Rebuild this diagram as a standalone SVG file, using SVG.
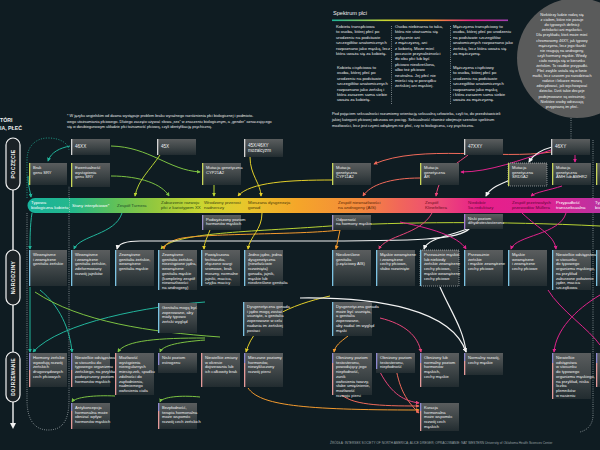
<svg xmlns="http://www.w3.org/2000/svg" width="600" height="450" viewBox="0 0 600 450">
<defs>
<linearGradient id="gb" x1="0" y1="0" x2="0" y2="1"><stop offset="0" stop-color="#5a5d5e"/><stop offset="0.55" stop-color="#3d4446"/><stop offset="1" stop-color="#222c30"/></linearGradient>
<linearGradient id="band" x1="28" y1="0" x2="600" y2="0" gradientUnits="userSpaceOnUse">
<stop offset="0" stop-color="#17b29c"/><stop offset="0.08" stop-color="#25b88b"/><stop offset="0.15" stop-color="#5ec15a"/><stop offset="0.22" stop-color="#93c83e"/><stop offset="0.3" stop-color="#c9d631"/><stop offset="0.37" stop-color="#e6c92b"/><stop offset="0.47" stop-color="#f5a629"/><stop offset="0.58" stop-color="#f48a3c"/><stop offset="0.65" stop-color="#f1665a"/><stop offset="0.72" stop-color="#ed4a78"/><stop offset="0.79" stop-color="#e71f8a"/><stop offset="0.9" stop-color="#df2291"/><stop offset="1" stop-color="#bb32a2"/></linearGradient>
<linearGradient id="spec" x1="0" y1="0" x2="1" y2="0"><stop offset="0" stop-color="#1fb59a"/><stop offset="0.3" stop-color="#c9d631"/><stop offset="0.55" stop-color="#f5a629"/><stop offset="0.8" stop-color="#e71f8a"/><stop offset="1" stop-color="#a040b0"/></linearGradient>
<marker id="aT" viewBox="0 0 6 6" refX="5" refY="3" markerWidth="4" markerHeight="4" orient="auto"><path d="M0,0 L6,3 L0,6z" fill="#22b59c"/></marker>
<marker id="aG" viewBox="0 0 6 6" refX="5" refY="3" markerWidth="4" markerHeight="4" orient="auto"><path d="M0,0 L6,3 L0,6z" fill="#7cc242"/></marker>
<marker id="aL" viewBox="0 0 6 6" refX="5" refY="3" markerWidth="4" markerHeight="4" orient="auto"><path d="M0,0 L6,3 L0,6z" fill="#b9d334"/></marker>
<marker id="aY" viewBox="0 0 6 6" refX="5" refY="3" markerWidth="4" markerHeight="4" orient="auto"><path d="M0,0 L6,3 L0,6z" fill="#e3cf2a"/></marker>
<marker id="aO" viewBox="0 0 6 6" refX="5" refY="3" markerWidth="4" markerHeight="4" orient="auto"><path d="M0,0 L6,3 L0,6z" fill="#f39a2e"/></marker>
<marker id="aS" viewBox="0 0 6 6" refX="5" refY="3" markerWidth="4" markerHeight="4" orient="auto"><path d="M0,0 L6,3 L0,6z" fill="#f06a5a"/></marker>
<marker id="aP" viewBox="0 0 6 6" refX="5" refY="3" markerWidth="4" markerHeight="4" orient="auto"><path d="M0,0 L6,3 L0,6z" fill="#e8457a"/></marker>
<marker id="aM" viewBox="0 0 6 6" refX="5" refY="3" markerWidth="4" markerHeight="4" orient="auto"><path d="M0,0 L6,3 L0,6z" fill="#e2238c"/></marker>
<marker id="aW" viewBox="0 0 6 6" refX="5" refY="3" markerWidth="4" markerHeight="4" orient="auto"><path d="M0,0 L6,3 L0,6z" fill="#f2f2f2"/></marker>
</defs>
<style>
text{font-family:"Liberation Sans",Arial,sans-serif}
.t{font-size:4.1px;fill:#f0f0f0}
.th{font-size:4.6px;fill:#f0f0f0}
.bl{font-size:4.4px}
.sm{font-size:4.2px;fill:#e8e8e8}
.bx{fill:url(#gb)}
.hb{fill:#d4d4d4}.yb{fill:#c9d65a}.lb{fill:#9d93c9}.cb{fill:#7cc3e3}.pu{fill:#8d88d0}.pk{fill:#e49a9a}
.dot{fill:none;stroke:#cfd6d8;stroke-width:0.7;stroke-dasharray:0.8 1.4}
.c{fill:none;stroke-width:1}
.T{stroke:#22b59c}.G{stroke:#7cc242}.L{stroke:#b9d334}.Y{stroke:#e3cf2a}.O{stroke:#f39a2e}.S{stroke:#f06a5a}.P{stroke:#e8457a}.M{stroke:#e2238c}.W{stroke:#f2f2f2;stroke-width:1.2}
.pill{fill:#1b2226;stroke:#f2f2f2;stroke-width:1.2}
.pt{font-size:5.2px;font-weight:bold;fill:#f2f2f2;letter-spacing:0.3px}
</style>
<rect width="600" height="450" fill="#0f1c22"/>

<g id="title"><text x="0" y="122" style="font-size:5.2px;font-weight:bold;fill:#f0f0f0">TÓRI</text><text x="0" y="130" style="font-size:5.2px;font-weight:bold;fill:#f0f0f0">IA, PŁEĆ</text></g>
<g id="footnote">
<text class="sm" x="67" y="117" style="font-size:3.8px">* W języku angielskim od dawna występuje problem braku wyraźnego rozróżnienia płci biologicznej i podmioto-</text>
<text class="sm" x="67" y="122.5" style="font-size:3.8px">wego utożsamiania płciowego. Dlatego zaczęto używać słowa „sex” w znaczeniu biologicznym, a „gender” oznaczającego</text>
<text class="sm" x="67" y="128" style="font-size:3.8px">się w dwubiegunowym układzie płci tożsamość płciową, czyli identyfikację psychiczną.</text>
</g>

<g id="spectrum">
<text x="333" y="15" style="font-size:5.6px;fill:#f0f0f0">Spektrum płci</text>
<rect x="332" y="19.5" width="176" height="1.6" fill="url(#spec)"/>
<line x1="391.5" y1="26" x2="391.5" y2="105" class="dot"/>
<line x1="450.5" y1="26" x2="450.5" y2="105" class="dot"/>
<text class="sm"><tspan x="336" y="28">Kobieta transpłciowa</tspan><tspan x="336" dy="5.4">to osoba, której płeć po</tspan><tspan x="336" dy="5.4">urodzeniu na podstawie</tspan><tspan x="336" dy="5.4">szczegółów anatomicznych</tspan><tspan x="336" dy="5.4">rozpoznano jako męską, lecz</tspan><tspan x="336" dy="5.4">która uważa się za kobietę.</tspan>
<tspan x="337" y="69">Kobieta cispłciowa to</tspan><tspan x="337" dy="5.4">osoba, której płeć po</tspan><tspan x="337" dy="5.4">urodzeniu na podstawie</tspan><tspan x="337" dy="5.4">szczegółów anatomicznych</tspan><tspan x="337" dy="5.4">rozpoznano jako żeńską i</tspan><tspan x="337" dy="5.4">która zarazem sama siebie</tspan><tspan x="337" dy="5.4">uważa za kobietę.</tspan></text>
<text class="sm"><tspan x="395" y="28">Osoba niebinarna to taka,</tspan><tspan x="395" dy="5.4">która nie utożsamia się</tspan><tspan x="395" dy="5.4">wyłącznie ani</tspan><tspan x="395" dy="5.4">z mężczyzną, ani</tspan><tspan x="395" dy="5.4">z kobietą. Może mieć</tspan><tspan x="395" dy="5.4">poczucie przynależności</tspan><tspan x="395" dy="5.4">do obu płci lub być</tspan><tspan x="395" dy="5.4">płciowo nieokreślona,</tspan><tspan x="395" dy="5.4">albo też płciowo</tspan><tspan x="395" dy="5.4">neutralna. Jej płeć nie</tspan><tspan x="395" dy="5.4">mieści się w porządku</tspan><tspan x="395" dy="5.4">żeńskiej ani męskiej.</tspan></text>
<text class="sm"><tspan x="453" y="28">Mężczyzna transpłciowy to</tspan><tspan x="453" dy="5.4">osoba, której płeć po urodzeniu</tspan><tspan x="453" dy="5.4">na podstawie szczegółów</tspan><tspan x="453" dy="5.4">anatomicznych rozpoznano jako</tspan><tspan x="453" dy="5.4">żeńską, lecz która uważa się</tspan><tspan x="453" dy="5.4">za mężczyznę.</tspan>
<tspan x="453" y="69">Mężczyzna cispłciowy</tspan><tspan x="453" dy="5.4">to osoba, której płeć po</tspan><tspan x="453" dy="5.4">urodzeniu na podstawie</tspan><tspan x="453" dy="5.4">szczegółów anatomicznych</tspan><tspan x="453" dy="5.4">rozpoznano jako męską</tspan><tspan x="453" dy="5.4">i która zarazem sama siebie</tspan><tspan x="453" dy="5.4">uważa za mężczyznę.</tspan></text>
<text class="sm" style="font-size:3.9px"><tspan x="332" y="115">Pod pojęciem seksualności rozumiemy orientację seksualną człowieka, czyli to, do przedstawicieli</tspan><tspan x="332" dy="5.8">jakiej kategorii płciowej odczuwa on pociąg. Seksualność również obejmuje szerokie spektrum</tspan><tspan x="332" dy="5.8">możliwości, lecz jest czymś odrębnym niż płeć, czy to biologiczna, czy psychiczna.</tspan></text>
</g>

<g id="intersex-note">
<circle cx="577" cy="58" r="60" fill="#5a5b5b"/>
<text text-anchor="middle" style="font-size:3.8px;fill:#f2f2f2"><tspan x="562" y="16">Niektórzy ludzie rodzą się</tspan><tspan x="562" dy="5.1">z ciałem, które nie pasuje</tspan><tspan x="562" dy="5.1">do typowych definicji</tspan><tspan x="562" dy="5.1">żeńskości ani męskości.</tspan><tspan x="562" dy="5.1">Dla przykładu, ktoś może mieć</tspan><tspan x="562" dy="5.1">chromosomy 46XY, jak typowy</tspan><tspan x="562" dy="5.1">mężczyzna, lecz jego tkanki</tspan><tspan x="562" dy="5.1">nie reagują na androgeny,</tspan><tspan x="562" dy="5.1">czyli hormony męskie. Wtedy</tspan><tspan x="562" dy="5.1">ciało rozwija się w kierunku</tspan><tspan x="562" dy="5.1">żeńskim. To rzadkie przypadki.</tspan><tspan x="562" dy="5.1">Płeć zwykle ustala się w łonie</tspan><tspan x="562" dy="5.1">matki, lecz czasem po narodzinach</tspan><tspan x="562" dy="5.1">rodzice i lekarze muszą</tspan><tspan x="562" dy="5.1">zdecydować, jak wychowywać</tspan><tspan x="562" dy="5.1">dziecko. Dziś takie decyzje</tspan><tspan x="562" dy="5.1">podejmowane są ostrożniej.</tspan><tspan x="562" dy="5.1">Niektóre osoby odrzucają</tspan><tspan x="562" dy="5.1">przypisaną im płeć.</tspan></text>
<line x1="571" y1="118" x2="571" y2="139" class="dot"/>
</g>

<g id="timeline">
<line x1="13" y1="150" x2="13" y2="424" stroke="#f2f2f2" stroke-width="1.4"/>
<path d="M10,423 L16,423 L13,429z" fill="#f2f2f2"/>
<g id="pill-poczecie"><rect class="pill" x="6" y="138" width="14" height="52" rx="7"/><text class="pt" text-anchor="middle" transform="translate(14.8,164) rotate(-90)">POCZĘCIE</text></g>
<g id="pill-narodziny"><rect class="pill" x="6" y="250" width="14" height="55" rx="7"/><text class="pt" text-anchor="middle" transform="translate(14.8,277.5) rotate(-90)">NARODZINY</text></g>
<g id="pill-dojrzewanie"><rect class="pill" x="6" y="352" width="14" height="50" rx="7"/><text class="pt" text-anchor="middle" transform="translate(14.8,377) rotate(-90)" style="font-size:4.7px">DOJRZEWANIE</text></g>
</g>

<g id="guides">
<path class="dot" d="M27,213 L27,400 C27,424 38,430 48,430 C60,430 69,424 69,400 L69,186"/>
<path class="dot" d="M593,140 L593,415 C593,424 588,430 580,432"/>
<path d="M27,198 L27,160 C27,146 36,138 48,138 C60,138 68,143 69,150" fill="none" stroke="#22b59c" stroke-width="0.8" stroke-dasharray="1 1.5"/>
</g>

<g id="band-row">
<path d="M35,198 L600,198 L600,213 L35,213 A7.5,7.5 0 0 1 35,198z" fill="url(#band)"/>
<line x1="69.5" y1="198" x2="69.5" y2="213" class="dot"/>
<text class="bl" style="fill:#fff"><tspan x="31" y="204.3">Typowa</tspan><tspan x="31" dy="4.8">biologiczna kobieta</tspan></text>
<text class="bl" x="72" y="207" style="fill:#fff">Stany interpłciowe*</text>
<text class="bl" x="117" y="207" style="fill:#1d4d2a">Zespół Turnera</text>
<text class="bl" style="fill:#2a4a12"><tspan x="161" y="204.3">Zaburzenie rozwoju</tspan><tspan x="161" dy="4.8">płci z kariotypem XX</tspan></text>
<text class="bl" style="fill:#3d4410"><tspan x="204" y="204.3">Wrodzony przerost</tspan><tspan x="204" dy="4.8">nadnerczy</tspan></text>
<text class="bl" style="fill:#4a3a08"><tspan x="248" y="204.3">Mieszana dysgenezja</tspan><tspan x="248" dy="4.8">gonad</tspan></text>
<text class="bl" style="fill:#5a2806"><tspan x="338" y="204.3">Zespół niewrażliwości</tspan><tspan x="338" dy="4.8">na androgeny (AIS)</tspan></text>
<text class="bl" style="fill:#6a0f22"><tspan x="425" y="204.3">Zespół</tspan><tspan x="425" dy="4.8">Klinefeltera</tspan></text>
<text class="bl" style="fill:#6a0a3a"><tspan x="468" y="204.3">Niedobór</tspan><tspan x="468" dy="4.8">5α-reduktazy</tspan></text>
<text class="bl" style="fill:#5e0636"><tspan x="512" y="204.3">Zespół przetrwałych</tspan><tspan x="512" dy="4.8">przewodów Müllera</tspan></text>
<text class="bl" style="fill:#fff"><tspan x="556" y="204.3">Przypadłość</tspan><tspan x="556" dy="4.8">transseksualna</tspan></text>
<text class="bl" style="fill:#fff"><tspan x="595" y="204.3">Typowy</tspan><tspan x="595" dy="4.8">biologiczny mężczyzna</tspan></text>
</g>

<g id="connectors">
<path class="c T" d="M70,146 C60,148 51,152 48,161" marker-end="url(#aT)"/>
<path class="c T" d="M28,176 C28,186 30,190 31,197" marker-end="url(#aT)"/>
<path class="c G" d="M111,146 C150,147 168,170 200,172" marker-end="url(#aG)"/>
<path class="c G" d="M111,176 C140,176 162,184 169,196" marker-end="url(#aG)"/>
<path class="c L" d="M160,155 C150,170 138,180 135,196" marker-end="url(#aL)"/>
<path class="c Y" d="M250,157 C250,175 261,184 261,196" marker-end="url(#aY)"/>
<path class="c L" d="M214,185 L214,196" marker-end="url(#aL)"/>
<path class="c Y" d="M332,180 C290,180 250,182 238,196" marker-end="url(#aY)"/>
<path class="c S" d="M551,152 C500,160 420,144 374,164" marker-end="url(#aS)"/>
<path class="c S" d="M420,178 C390,178 370,185 363,196" marker-end="url(#aS)"/>
<path class="c M" d="M551,150 C520,160 490,172 461,172" marker-end="url(#aM)"/>
<path class="c P" d="M468,155 C455,165 440,172 436,196" marker-end="url(#aP)"/>
<path class="c W" d="M552,147 C540,150 533,155 529,162" marker-end="url(#aW)"/>
<path class="c W" d="M510,180 C500,184 490,188 486,196" marker-end="url(#aW)"/>
<path class="c M" d="M575,155 L575,162" marker-end="url(#aM)"/>
<path class="c M" d="M562,186 C550,190 536,192 531,196" marker-end="url(#aM)"/>
<path class="c T" d="M32,213 C30,225 30,240 30,249" marker-end="url(#aT)"/>
<path class="c T" d="M122,213 C115,235 80,235 74,249" marker-end="url(#aT)"/>
<path class="c L" d="M600,226 C500,221 400,222 330,226 C250,232 175,232 161,249" marker-end="url(#aL)"/>
<path class="c O" d="M340,230 C300,235 200,233 178,239 C168,242 164,245 164,249" marker-end="url(#aO)"/>
<path class="c W" d="M470,228 C460,240 420,241 300,241 L140,241 C122,241 118,245 117,249" marker-end="url(#aW)"/>
<path class="c Y" d="M262,213 C262,230 250,236 248,249" marker-end="url(#aY)"/>
<path class="c Y" d="M210,230 C206,240 204,244 204,249" marker-end="url(#aY)"/>
<path class="c O" d="M340,230 L336,249" marker-end="url(#aO)"/>
<path class="c P" d="M432,213 C420,235 386,235 379,249" marker-end="url(#aP)"/>
<path class="c W" d="M470,228 C450,236 428,238 424,249" marker-end="url(#aW)"/>
<path class="c M" d="M400,222 C430,228 458,236 466,249" marker-end="url(#aM)"/>
<path class="c M" d="M566,213 C560,235 516,235 511,249" marker-end="url(#aM)"/>
<path class="c M" d="M522,213 C540,230 554,235 556,249" marker-end="url(#aM)"/>
<path class="c T" d="M30,287 L30,352" marker-end="url(#aT)"/>
<path class="c T" d="M205,302 C150,306 60,322 33,352" marker-end="url(#aT)"/>
<path class="c T" d="M40,290 C60,306 70,330 72,352" marker-end="url(#aT)"/>
<path class="c G" d="M35,292 C80,322 150,332 220,337"/>
<path class="c G" d="M205,338 C160,338 125,340 118,352" marker-end="url(#aG)"/>
<path class="c G" d="M205,340 C180,342 163,345 160,352" marker-end="url(#aG)"/>
<path class="c G" d="M115,396 C95,395 75,397 72,402" marker-end="url(#aG)"/>
<path class="c G" d="M200,397 C180,395 162,397 160,402" marker-end="url(#aG)"/>
<path class="c Y" d="M330,296 C290,305 255,320 246,352" marker-end="url(#aY)"/>
<path class="c O" d="M348,336 C340,342 335,346 334,352" marker-end="url(#aO)"/>
<path class="c W" d="M300,298 C380,297 452,310 466,352" marker-end="url(#aW)"/>
<path class="c W" d="M440,287 C450,310 464,330 466,352"/>
<path class="c P" d="M380,318 C405,324 418,336 421,352" marker-end="url(#aP)"/>
<path class="c M" d="M600,295 C575,310 556,330 554,352" marker-end="url(#aM)"/>
<path class="c M" d="M548,290 C560,310 590,330 600,345"/>
<path class="c O" d="M248,388 C260,405 300,410 419,410" marker-end="url(#aO)"/>
<path class="c S" d="M340,393 C350,405 380,406 419,406" marker-end="url(#aS)"/>
<path class="c P" d="M380,372 C392,395 405,401 419,403" marker-end="url(#aP)"/>
<path class="c S" d="M393,353 C398,380 400,395 419,413" marker-end="url(#aS)"/>
</g>

<g id="k46xx"><rect class="bx" x="71" y="139" width="39" height="16"/><rect class="hb" x="71" y="139" width="1.3" height="16"/><text class="th" x="75" y="148">46XX</text></g>
<g id="k45x"><rect class="bx" x="157" y="139" width="39" height="16"/><rect class="hb" x="157" y="139" width="1.3" height="16"/><text class="th" x="161" y="148">45X</text></g>
<g id="k45x46xy"><rect class="bx" x="244" y="139" width="39" height="18"/><rect class="hb" x="244" y="139" width="1.3" height="18"/><text class="th"><tspan x="248" y="146.5">45X/46XY</tspan><tspan x="248" dy="5">mozaicyzm</tspan></text></g>
<g id="k47xxy"><rect class="bx" x="464" y="139" width="39" height="16"/><rect class="hb" x="464" y="139" width="1.3" height="16"/><text class="th" x="468" y="148">47XXY</text></g>
<g id="k46xy"><rect class="bx" x="551" y="139" width="39" height="16"/><rect class="hb" x="551" y="139" width="1.3" height="16"/><text class="th" x="555" y="148">46XY</text></g>

<g id="sry0"><rect class="bx" x="29" y="163" width="38" height="22"/><rect class="yb" x="29" y="163" width="1.3" height="22"/><text class="t"><tspan x="33" y="169">Brak</tspan><tspan x="33" dy="4.7">genu SRY</tspan></text></g>
<g id="sry1"><rect class="bx" x="71" y="163" width="39" height="24"/><rect class="yb" x="71" y="163" width="1.3" height="24"/><text class="t"><tspan x="75" y="169">Ewentualność</tspan><tspan x="75" dy="4.7">wystąpienia</tspan><tspan x="75" dy="4.7">genu SRY</tspan></text></g>
<g id="cyp21"><rect class="bx" x="202" y="163" width="39" height="22"/><rect class="yb" x="202" y="163" width="1.3" height="22"/><text class="t"><tspan x="206" y="169">Mutacja genetyczna</tspan><tspan x="206" dy="4.7">CYP21A2</tspan></text></g>
<g id="cyp11"><rect class="bx" x="332" y="163" width="39" height="22"/><rect class="yb" x="332" y="163" width="1.3" height="22"/><text class="t"><tspan x="336" y="169">Mutacja</tspan><tspan x="336" dy="4.7">genetyczna</tspan><tspan x="336" dy="4.7">CYP11A2</tspan></text></g>
<g id="mutAR"><rect class="bx" x="420" y="163" width="39" height="22"/><rect class="yb" x="420" y="163" width="1.3" height="22"/><text class="t"><tspan x="424" y="169">Mutacja</tspan><tspan x="424" dy="4.7">genetyczna</tspan><tspan x="424" dy="4.7">AR</tspan></text></g>
<g id="srd5a2"><rect class="bx" x="508" y="163" width="39" height="23" stroke="#e8e8e8" stroke-width="0.5" stroke-dasharray="1 1"/><rect class="yb" x="508" y="163" width="1.3" height="23"/><text class="t"><tspan x="512" y="169">Mutacja</tspan><tspan x="512" dy="4.7">genetyczna</tspan><tspan x="512" dy="4.7">SRD5A2</tspan></text></g>
<g id="amh"><rect class="bx" x="552" y="163" width="39" height="22"/><rect class="yb" x="552" y="163" width="1.3" height="22"/><text class="t"><tspan x="556" y="169">Mutacja</tspan><tspan x="556" dy="4.7">genetyczna</tspan><tspan x="556" dy="4.7">AMH lub AMHR2</tspan></text></g>
<g id="cut2"><rect class="bx" x="596" y="163" width="10" height="22"/><rect class="yb" x="596" y="163" width="1.3" height="22"/></g>

<g id="hormM"><rect class="bx" x="202" y="215" width="39" height="15"/><rect class="lb" x="202" y="215" width="1.3" height="15"/><text class="t"><tspan x="206" y="220.5">Podwyższony poziom</tspan><tspan x="206" dy="4.7">hormonów męskich</tspan></text></g>
<g id="odpor"><rect class="bx" x="332" y="215" width="39" height="15"/><rect class="lb" x="332" y="215" width="1.3" height="15"/><text class="t"><tspan x="336" y="220.5">Odporność</tspan><tspan x="336" dy="4.7">na hormony męskie</tspan></text></g>
<g id="dht"><rect class="bx" x="464" y="214" width="39" height="15"/><rect x="464" y="214" width="1.3" height="15" fill="#a57fd6"/><text class="t"><tspan x="468" y="219.5">Niski poziom</tspan><tspan x="468" dy="4.7">dihydrotestosteronu</tspan></text></g>

<g id="b1"><rect class="bx" x="29" y="250" width="38" height="36"/><rect class="cb" x="29" y="250" width="1.3" height="36"/><text class="t"><tspan x="33" y="256">Wewnętrzne</tspan><tspan x="33" dy="4.7">i zewnętrzne</tspan><tspan x="33" dy="4.7">genitalia żeńskie</tspan></text></g>
<g id="b2"><rect class="bx" x="71" y="250" width="39" height="36"/><rect class="cb" x="71" y="250" width="1.3" height="36"/><text class="t"><tspan x="75" y="256">Wewnętrzne</tspan><tspan x="75" dy="4.7">i zewnętrzne</tspan><tspan x="75" dy="4.7">genitalia żeńskie,</tspan><tspan x="75" dy="4.7">zdeformowany</tspan><tspan x="75" dy="4.7">rozwój jajników</tspan></text></g>
<g id="b3"><rect class="bx" x="115" y="250" width="39" height="36"/><rect class="cb" x="115" y="250" width="1.3" height="36"/><text class="t"><tspan x="119" y="256">Zewnętrzne</tspan><tspan x="119" dy="4.7">genitalia żeńskie,</tspan><tspan x="119" dy="4.7">wewnętrzne</tspan><tspan x="119" dy="4.7">genitalia męskie</tspan></text></g>
<g id="b4"><rect class="bx" x="158" y="250" width="39" height="40"/><rect class="cb" x="158" y="250" width="1.3" height="40"/><text class="t"><tspan x="162" y="256">Zewnętrzne</tspan><tspan x="162" dy="4.7">genitalia żeńskie,</tspan><tspan x="162" dy="4.7">niezstąpione jądra,</tspan><tspan x="162" dy="4.7">wewnętrzne</tspan><tspan x="162" dy="4.7">genitalia męskie</tspan><tspan x="162" dy="4.7">(kompletny zespół</tspan><tspan x="162" dy="4.7">niewrażliwości</tspan><tspan x="162" dy="4.7">na androgeny)</tspan></text></g>
<g id="b5"><rect class="bx" x="201" y="250" width="39" height="36"/><rect class="cb" x="201" y="250" width="1.3" height="36"/><text class="t"><tspan x="205" y="256">Powiększona</tspan><tspan x="205" dy="4.7">łechtaczka,</tspan><tspan x="205" dy="4.7">złączone wargi</tspan><tspan x="205" dy="4.7">sromowe, brak</tspan><tspan x="205" dy="4.7">moszny, normalne</tspan><tspan x="205" dy="4.7">jajniki, macica,</tspan><tspan x="205" dy="4.7">szyjka macicy</tspan></text></g>
<g id="b6"><rect class="bx" x="244" y="250" width="39" height="36"/><rect class="cb" x="244" y="250" width="1.3" height="36"/><text class="t"><tspan x="248" y="256">Jedno jądro, jedna</tspan><tspan x="248" dy="4.7">dysgenetyczna</tspan><tspan x="248" dy="4.7">(niewłaściwie</tspan><tspan x="248" dy="4.7">rozwinięta)</tspan><tspan x="248" dy="4.7">gonada, jajnik,</tspan><tspan x="248" dy="4.7">męskie lub</tspan><tspan x="248" dy="4.7">nieokreślone genitalia</tspan></text></g>
<g id="b7"><rect class="bx" x="332" y="250" width="39" height="36"/><rect class="cb" x="332" y="250" width="1.3" height="36"/><text class="t"><tspan x="336" y="256">Nieokreślone</tspan><tspan x="336" dy="4.7">genitalia</tspan><tspan x="336" dy="4.7">(częściowy AIS)</tspan></text></g>
<g id="b8"><rect class="bx" x="376" y="250" width="39" height="36"/><rect class="cb" x="376" y="250" width="1.3" height="36"/><text class="t"><tspan x="380" y="256">Męskie wewnętrzne</tspan><tspan x="380" dy="4.7">i zewnętrzne</tspan><tspan x="380" dy="4.7">cechy płciowe,</tspan><tspan x="380" dy="4.7">słabo rozwinięte</tspan></text></g>
<g id="b9"><rect class="bx" x="420" y="250" width="39" height="36" stroke="#e8e8e8" stroke-width="0.5" stroke-dasharray="1 1"/><rect class="cb" x="420" y="250" width="1.3" height="36"/><text class="t"><tspan x="424" y="256">Przeważnie męskie</tspan><tspan x="424" dy="4.7">lub niekiedy</tspan><tspan x="424" dy="4.7">żeńskie zewnętrzne</tspan><tspan x="424" dy="4.7">cechy płciowe,</tspan><tspan x="424" dy="4.7">męskie wewnętrzne</tspan><tspan x="424" dy="4.7">cechy płciowe</tspan></text></g>
<g id="b10"><rect class="bx" x="464" y="250" width="39" height="36"/><rect class="cb" x="464" y="250" width="1.3" height="36"/><text class="t"><tspan x="468" y="256">Przeważnie</tspan><tspan x="468" dy="4.7">żeńskie</tspan><tspan x="468" dy="4.7">i męskie zewnętrzne</tspan><tspan x="468" dy="4.7">cechy płciowe</tspan></text></g>
<g id="b11"><rect class="bx" x="508" y="250" width="39" height="36"/><rect class="cb" x="508" y="250" width="1.3" height="36"/><text class="t"><tspan x="512" y="256">Męskie</tspan><tspan x="512" dy="4.7">wewnętrzne</tspan><tspan x="512" dy="4.7">i zewnętrzne</tspan><tspan x="512" dy="4.7">cechy płciowe</tspan></text></g>
<g id="b12"><rect class="bx" x="552" y="250" width="39" height="40"/><rect class="cb" x="552" y="250" width="1.3" height="40"/><text class="t"><tspan x="556" y="256">Niewielkie odstępstwa</tspan><tspan x="556" dy="4.7">w stosunku</tspan><tspan x="556" dy="4.7">do typowego</tspan><tspan x="556" dy="4.7">organizmu męskiego,</tspan><tspan x="556" dy="4.7">na przykład</tspan><tspan x="556" dy="4.7">zaburzone położenie</tspan><tspan x="556" dy="4.7">jąder, macica</tspan><tspan x="556" dy="4.7">szczątkowa</tspan></text></g>
<g id="b13"><rect class="bx" x="596" y="250" width="10" height="36"/><rect class="cb" x="596" y="250" width="1.3" height="36"/></g>

<g id="s1"><rect class="bx" x="158" y="303" width="39" height="30"/><rect class="cb" x="158" y="303" width="1.3" height="30"/><text class="t"><tspan x="162" y="309">Genitalia mogą być</tspan><tspan x="162" dy="4.7">zoperowane, aby</tspan><tspan x="162" dy="4.7">miały typowo</tspan><tspan x="162" dy="4.7">żeński wygląd</tspan></text></g>
<g id="s2"><rect class="bx" x="243" y="302" width="40" height="34"/><rect class="cb" x="243" y="302" width="1.3" height="34"/><text class="t"><tspan x="247" y="308">Dysgenetyczna gonada</tspan><tspan x="247" dy="4.7">i jądro mogą zostać</tspan><tspan x="247" dy="4.7">usunięte, a genitalia</tspan><tspan x="247" dy="4.7">zoperowane w celu</tspan><tspan x="247" dy="4.7">nadania im żeńskiej</tspan><tspan x="247" dy="4.7">postaci</tspan></text></g>
<g id="s3"><rect class="bx" x="332" y="302" width="40" height="34"/><rect class="cb" x="332" y="302" width="1.3" height="34"/><text class="t"><tspan x="336" y="308">Dysgenetyczna gonada</tspan><tspan x="336" dy="4.7">może być usunięta,</tspan><tspan x="336" dy="4.7">a genitalia</tspan><tspan x="336" dy="4.7">zoperowane,</tspan><tspan x="336" dy="4.7">aby nadać im wygląd</tspan><tspan x="336" dy="4.7">męski</tspan></text></g>

<g id="p1"><rect class="bx" x="29" y="353" width="38" height="34"/><rect class="pu" x="29" y="353" width="1.3" height="17"/><rect class="pk" x="29" y="370" width="1.3" height="17"/><text class="t"><tspan x="33" y="359">Hormony żeńskie</tspan><tspan x="33" dy="4.7">wywołują rozwój</tspan><tspan x="33" dy="4.7">żeńskich</tspan><tspan x="33" dy="4.7">drugorzędowych</tspan><tspan x="33" dy="4.7">cech płciowych</tspan></text></g>
<g id="p2"><rect class="bx" x="71" y="353" width="39" height="34"/><rect class="pu" x="71" y="353" width="1.3" height="17"/><rect class="pk" x="71" y="370" width="1.3" height="17"/><text class="t"><tspan x="75" y="359">Niewielkie odstępstwa</tspan><tspan x="75" dy="4.7">w stosunku do</tspan><tspan x="75" dy="4.7">typowego organizmu</tspan><tspan x="75" dy="4.7">żeńskiego, na przykład,</tspan><tspan x="75" dy="4.7">podwyższony poziom</tspan><tspan x="75" dy="4.7">hormonów męskich</tspan></text></g>
<g id="p3"><rect class="bx" x="115" y="353" width="39" height="42"/><rect class="pk" x="115" y="353" width="1.3" height="42"/><text class="t"><tspan x="119" y="359">Możliwość</tspan><tspan x="119" dy="4.7">wystąpienia</tspan><tspan x="119" dy="4.7">nieregularnych</tspan><tspan x="119" dy="4.7">miesiączek, spadku</tspan><tspan x="119" dy="4.7">zdolności do</tspan><tspan x="119" dy="4.7">zapłodnienia,</tspan><tspan x="119" dy="4.7">nadmiernego</tspan><tspan x="119" dy="4.7">owłosienia ciała</tspan></text></g>
<g id="p4"><rect class="bx" x="158" y="353" width="39" height="20"/><rect class="pu" x="158" y="353" width="1.3" height="12"/><text class="t"><tspan x="162" y="359">Niski poziom</tspan><tspan x="162" dy="4.7">estrogenu</tspan></text></g>
<g id="p5"><rect class="bx" x="201" y="353" width="39" height="34"/><rect class="pk" x="201" y="353" width="1.3" height="34"/><text class="t"><tspan x="205" y="359">Niewielkie zmiany</tspan><tspan x="205" dy="4.7">w okresie</tspan><tspan x="205" dy="4.7">dojrzewania lub</tspan><tspan x="205" dy="4.7">ich całkowity brak</tspan></text></g>
<g id="p6"><rect class="bx" x="244" y="353" width="39" height="34"/><rect class="pu" x="244" y="353" width="1.3" height="10"/><rect class="pk" x="244" y="363" width="1.3" height="24"/><text class="t"><tspan x="248" y="359">Mieszane poziomy</tspan><tspan x="248" dy="4.7">hormonów,</tspan><tspan x="248" dy="4.7">niewykluczony</tspan><tspan x="248" dy="4.7">rozwój piersi</tspan></text></g>
<g id="p7"><rect class="bx" x="332" y="353" width="40" height="42"/><rect class="pu" x="332" y="353" width="1.3" height="10"/><rect class="pk" x="332" y="363" width="1.3" height="32"/><text class="t"><tspan x="336" y="359">Obniżony poziom</tspan><tspan x="336" dy="4.7">testosteronu,</tspan><tspan x="336" dy="4.7">powodujący jego</tspan><tspan x="336" dy="4.7">niepłodność,</tspan><tspan x="336" dy="4.7">zanik</tspan><tspan x="336" dy="4.7">owłosienia twarzy,</tspan><tspan x="336" dy="4.7">słabe umięśnienie,</tspan><tspan x="336" dy="4.7">możliwość</tspan><tspan x="336" dy="4.7">rozwoju piersi</tspan></text></g>
<g id="p8"><rect class="bx" x="376" y="353" width="39" height="20"/><rect class="pu" x="376" y="353" width="1.3" height="16"/><text class="t"><tspan x="380" y="359">Obniżony poziom</tspan><tspan x="380" dy="4.7">testosteronu,</tspan><tspan x="380" dy="4.7">niepłodność</tspan></text></g>
<g id="p9"><rect class="bx" x="420" y="353" width="39" height="34"/><rect class="pu" x="420" y="353" width="1.3" height="10"/><rect class="pk" x="420" y="363" width="1.3" height="24"/><text class="t"><tspan x="424" y="359">Obniżony lub</tspan><tspan x="424" dy="4.7">normalny poziom</tspan><tspan x="424" dy="4.7">hormonów</tspan><tspan x="424" dy="4.7">męskich,</tspan><tspan x="424" dy="4.7">cechy męskie</tspan></text></g>
<g id="p10"><rect class="bx" x="464" y="353" width="39" height="22"/><rect class="pu" x="464" y="353" width="1.3" height="8"/><rect class="pk" x="464" y="361" width="1.3" height="14"/><text class="t"><tspan x="468" y="359">Normalny rozwój,</tspan><tspan x="468" dy="4.7">cechy męskie</tspan></text></g>
<g id="p11"><rect class="bx" x="552" y="353" width="39" height="46"/><rect class="pu" x="552" y="353" width="1.3" height="10"/><rect class="pk" x="552" y="363" width="1.3" height="36"/><text class="t"><tspan x="556" y="359">Niewielkie</tspan><tspan x="556" dy="4.7">odstępstwa</tspan><tspan x="556" dy="4.7">w stosunku</tspan><tspan x="556" dy="4.7">do typowego</tspan><tspan x="556" dy="4.7">organizmu męskiego,</tspan><tspan x="556" dy="4.7">na przykład, niska</tspan><tspan x="556" dy="4.7">liczba</tspan><tspan x="556" dy="4.7">plemników</tspan><tspan x="556" dy="4.7">w nasieniu</tspan></text></g>
<g id="p12"><rect class="bx" x="596" y="353" width="10" height="34"/><rect class="pu" x="596" y="353" width="1.3" height="10"/><rect class="pk" x="596" y="363" width="1.3" height="24"/></g>

<g id="t1"><rect class="bx" x="71" y="403" width="39" height="26"/><rect class="pu" x="71" y="403" width="1.3" height="8"/><rect class="pk" x="71" y="411" width="1.3" height="18"/><text class="t"><tspan x="75" y="409">Antykoncepcja</tspan><tspan x="75" dy="4.7">hormonalna może</tspan><tspan x="75" dy="4.7">obniżać wpływ</tspan><tspan x="75" dy="4.7">hormonów męskich</tspan></text></g>
<g id="t2"><rect class="bx" x="158" y="403" width="39" height="26"/><rect class="pu" x="158" y="403" width="1.3" height="8"/><rect class="pk" x="158" y="411" width="1.3" height="18"/><text class="t"><tspan x="162" y="409">Bezpłodność,</tspan><tspan x="162" dy="4.7">terapia hormonalna</tspan><tspan x="162" dy="4.7">może wspomóc</tspan><tspan x="162" dy="4.7">rozwój cech żeńskich</tspan></text></g>
<g id="t3"><rect class="bx" x="420" y="403" width="39" height="28"/><rect class="pu" x="420" y="403" width="1.3" height="8"/><rect class="pk" x="420" y="411" width="1.3" height="20"/><text class="t"><tspan x="424" y="409">Kuracja</tspan><tspan x="424" dy="4.7">hormonalna</tspan><tspan x="424" dy="4.7">może wspomóc</tspan><tspan x="424" dy="4.7">rozwój cech</tspan><tspan x="424" dy="4.7">męskich</tspan></text></g>

<g id="credits"><text x="330" y="444" style="font-size:3.2px;fill:#9aa3a6">ŹRÓDŁA: INTERSEX SOCIETY OF NORTH AMERICA; ALICE DREGER; OPRACOWANIE: NAT WESTERN  University of Oklahoma Health Sciences Center</text></g>
</svg>
